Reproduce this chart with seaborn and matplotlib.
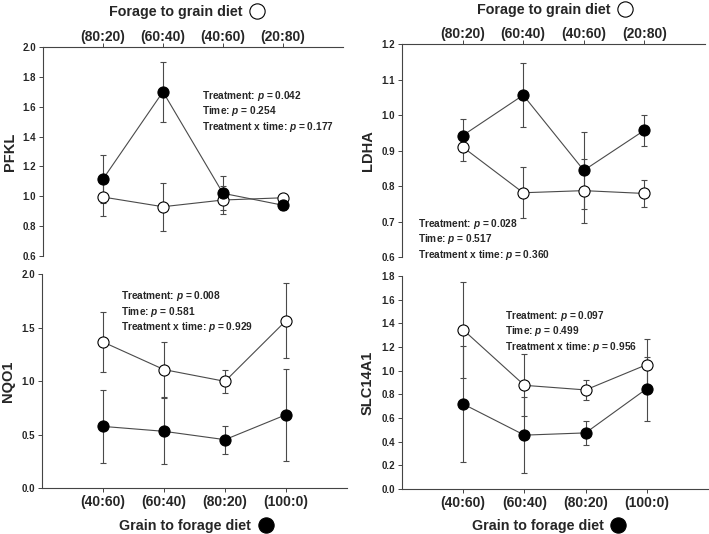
import matplotlib.pyplot as plt
import seaborn as sns
from matplotlib.lines import Line2D

# diet steps (4 periods), top axis = forage:grain, bottom axis = grain:forage
positions = [1, 2, 3, 4]
top_labels = ['(80:20)', '(60:40)', '(40:60)', '(20:80)']
bottom_labels = ['(40:60)', '(60:40)', '(80:20)', '(100:0)']

# open circles = forage to grain diet, filled = grain to forage diet
pfkl_open = [0.995, 0.93, 0.975, 0.99]
pfkl_open_se = [0.13, 0.16, 0.095, 0.02]
pfkl_filled = [1.115, 1.70, 1.02, 0.94]
pfkl_filled_se = [0.16, 0.20, 0.115, 0.03]
pfkl_p = ['0.042', '0.254', '0.177']

ldha_open = [0.91, 0.781, 0.787, 0.779]
ldha_open_se = [0.04, 0.072, 0.09, 0.037]
ldha_filled = [0.942, 1.056, 0.844, 0.957]
ldha_filled_se = [0.047, 0.09, 0.109, 0.044]
ldha_p = ['0.028', '0.517', '0.360']

nqo1_open = [1.365, 1.107, 0.997, 1.564]
nqo1_open_se = [0.28, 0.257, 0.108, 0.35]
nqo1_filled = [0.576, 0.53, 0.452, 0.685]
nqo1_filled_se = [0.34, 0.31, 0.13, 0.43]
nqo1_p = ['0.008', '0.581', '0.929']

slc_open = [1.345, 0.876, 0.837, 1.051]
slc_open_se = [0.403, 0.262, 0.082, 0.22]
slc_filled = [0.718, 0.455, 0.474, 0.848]
slc_filled_se = [0.49, 0.32, 0.10, 0.27]
slc_p = ['0.097', '0.499', '0.956']

sns.set_style('ticks')
plt.rcParams['font.family'] = ['Liberation Sans', 'DejaVu Sans']
plt.rcParams['mathtext.fontset'] = 'custom'
plt.rcParams['mathtext.it'] = 'Liberation Sans:italic:bold'
plt.rcParams['mathtext.rm'] = 'Liberation Sans:bold'

GREY = '#4a4a4a'


def draw_panel(ax, gene, o_m, o_se, f_m, f_se, pvals, ylim, yticks, top, txt_xy):
    for m, se, face, z in [(o_m, o_se, 'white', 3), (f_m, f_se, 'black', 4)]:
        ax.errorbar(positions, m, yerr=se, fmt='none', ecolor=GREY,
                    elinewidth=0.8, capsize=2.4, capthick=0.8, zorder=2)
        sns.lineplot(x=positions, y=m, ax=ax, color=GREY, linewidth=0.8,
                     marker='o', markersize=8, markerfacecolor=face,
                     markeredgecolor='black', markeredgewidth=0.8, zorder=z)

    ax.set_xlim(0, 5)
    ax.set_ylim(*ylim)
    ax.set_yticks(yticks, labels=[f'{t:.1f}' for t in yticks],
                  fontsize=7, fontweight='bold')
    ax.set_ylabel(gene, fontsize=10.5, fontweight='bold')
    ax.yaxis.set_label_coords(-0.088, 0.5)
    ax.set_xlabel('')

    if top:
        ax.xaxis.tick_top()
        ax.set_xticks(positions, labels=top_labels, fontsize=10, fontweight='bold')
        ax.spines[['bottom', 'right']].set_visible(False)
        ax.tick_params(axis='x', pad=-0.5)
    else:
        ax.set_xticks(positions, labels=bottom_labels, fontsize=10, fontweight='bold')
        sns.despine(ax=ax)
        ax.tick_params(axis='x', pad=2)
    for s in ['left', 'top', 'bottom']:
        ax.spines[s].set_linewidth(0.8)
        ax.spines[s].set_color('#444444')
    ax.tick_params(length=3, width=0.7, color='#444444')
    ax.tick_params(axis='y', pad=2)

    txt = (f'Treatment: $p$ = {pvals[0]}\n'
           f'Time: $p$ = {pvals[1]}\n'
           f'Treatment x time: $p$ = {pvals[2]}')
    ax.text(txt_xy[0], txt_xy[1], txt, transform=ax.transAxes, fontsize=7.3,
            fontweight='bold', ha='left', va='top', linespacing=1.15)


def diet_key(ax, label, face, xy):
    h = Line2D([], [], ls='none', marker='o', ms=11, mfc=face, mec='black', mew=0.8)
    ax.legend(handles=[h], labels=[label], loc='center', bbox_to_anchor=xy,
              frameon=False, markerfirst=False, prop={'weight': 'bold', 'size': 10.3},
              handletextpad=0.3, handlelength=1.4, borderpad=0, borderaxespad=0)


fig = plt.figure(figsize=(7.09, 5.34), dpi=100)
ax1 = fig.add_axes([0.0606, 0.5206, 0.4231, 0.3914])
ax2 = fig.add_axes([0.5670, 0.5187, 0.4274, 0.3989])
ax3 = fig.add_axes([0.0592, 0.0861, 0.4302, 0.4007])
ax4 = fig.add_axes([0.5670, 0.0843, 0.4316, 0.3989])

draw_panel(ax1, 'PFKL', pfkl_open, pfkl_open_se, pfkl_filled, pfkl_filled_se, pfkl_p,
           (0.6, 2.0), [0.6, 0.8, 1.0, 1.2, 1.4, 1.6, 1.8, 2.0], True, (0.53, 0.80))
draw_panel(ax2, 'LDHA', ldha_open, ldha_open_se, ldha_filled, ldha_filled_se, ldha_p,
           (0.6, 1.2), [0.6, 0.7, 0.8, 0.9, 1.0, 1.1, 1.2], True, (0.053, 0.19))
draw_panel(ax3, 'NQO1', nqo1_open, nqo1_open_se, nqo1_filled, nqo1_filled_se, nqo1_p,
           (0.0, 2.0), [0.0, 0.5, 1.0, 1.5, 2.0], False, (0.26, 0.93))
draw_panel(ax4, 'SLC14A1', slc_open, slc_open_se, slc_filled, slc_filled_se, slc_p,
           (0.0, 1.8), [0.0, 0.2, 0.4, 0.6, 0.8, 1.0, 1.2, 1.4, 1.6, 1.8], False, (0.335, 0.845))

diet_key(ax1, 'Forage to grain diet', 'white', (0.483, 1.167))
diet_key(ax2, 'Forage to grain diet', 'white', (0.508, 1.16))
diet_key(ax3, 'Grain to forage diet', 'black', (0.51, -0.178))
diet_key(ax4, 'Grain to forage diet', 'black', (0.485, -0.174))

fig.savefig('out.png', dpi=100)
